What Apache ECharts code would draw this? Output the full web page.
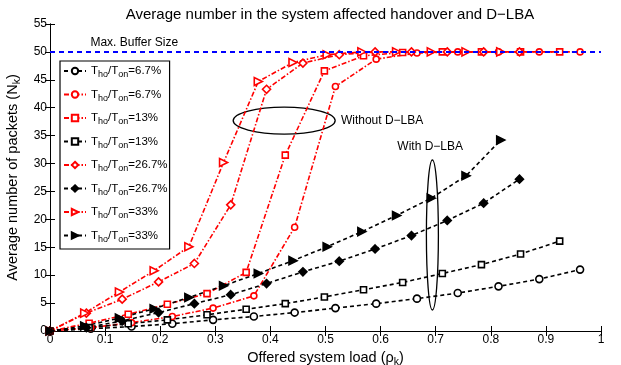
<!DOCTYPE html>
<html><head><meta charset="utf-8">
<script src="https://cdn.jsdelivr.net/npm/echarts@6/dist/echarts.min.js"></script>
<style>html,body{margin:0;padding:0;background:#fff;overflow:hidden;width:621px;height:365px}#c{position:absolute;left:0;top:0;width:621px;height:365px}</style>
</head><body><div id="c"></div>
<script>
const xTickLabels = ['0','0.1','0.2','0.3','0.4','0.5','0.6','0.7','0.8','0.9','1'];
const xCircle   = [0,0.074,0.148,0.222,0.296,0.370,0.444,0.518,0.592,0.666,0.740,0.814,0.888,0.962];
const xSquare   = [0,0.071,0.142,0.213,0.285,0.356,0.427,0.498,0.569,0.640,0.712,0.783,0.854,0.925];
const xDiamond  = [0,0.066,0.131,0.197,0.262,0.328,0.393,0.459,0.525,0.590,0.656,0.721,0.787,0.852];
const xTriangle = [0,0.063,0.126,0.189,0.252,0.315,0.378,0.441,0.503,0.566,0.629,0.692,0.755,0.818];

const yBlackCircle   = [0,0.4,0.8,1.3,2.0,2.6,3.3,4.1,4.9,5.8,6.8,8.0,9.3,11.0];
const yRedCircle     = [0,0.6,1.5,2.6,4.1,6.3,18.6,43.8,48.7,49.8,50,50,50,50];
const yRedSquare     = [0,1.4,3.0,4.8,6.7,10.5,31.5,46.6,49.3,49.9,50,50,50,50];
const yBlackSquare   = [0,0.6,1.3,2.0,2.9,3.9,4.9,6.1,7.4,8.7,10.3,11.9,13.8,16.1];
const yRedDiamond    = [0,3.2,5.7,8.8,12.1,22.6,43.3,48.0,49.5,50,50,50,50,50];
const yBlackDiamond  = [0,0.6,1.8,3.3,4.9,6.5,8.5,10.6,12.5,14.7,17.1,19.8,22.9,27.2];
const yRedTriangle   = [0,3.2,7.0,10.8,15.1,30.2,44.7,48.1,49.5,50,50,50,50,50];
const yBlackTriangle = [0,0.9,2.3,4.0,6.0,8.1,10.3,12.6,15.1,17.8,20.7,23.8,27.8,34.2];

const bufferSize = 50;
const legendLabels = ['6.7%','6.7%','13%','13%','26.7%','26.7%','33%','33%'];

const FONT = 'Liberation Sans, Arial, sans-serif';
function pair(xs, ys){ return xs.map((x,i)=>[x, ys[i]]); }

const RED = '#ff0000', BLACK = '#000000';
const redDash = [5,2,1.5,2];
const blackDash = [4,3];

function mk(id, xs, ys, color, symbol, filled, rotate, dash, size){
  return {
    name: id, type: 'line', data: pair(xs, ys),
    symbol: symbol, symbolSize: size || 7, symbolRotate: rotate || 0,
    showAllSymbol: true,
    lineStyle: {color: color, width: 1.6, type: dash},
    itemStyle: {color: filled ? color : '#ffffff', borderColor: color, borderWidth: 1.6},
    emphasis: {disabled: true}, animation: false, z: 3
  };
}

const series = [
  mk('s0', xCircle, yBlackCircle, BLACK, 'circle', false, 0, blackDash),
  mk('s1', xCircle, yRedCircle, RED, 'circle', false, 0, redDash, 6),
  mk('s2', xSquare, yRedSquare, RED, 'rect', false, 0, redDash, 6),
  mk('s3', xSquare, yBlackSquare, BLACK, 'rect', false, 0, blackDash, 6),
  mk('s4', xDiamond, yRedDiamond, RED, 'diamond', false, 0, redDash, 8),
  mk('s5', xDiamond, yBlackDiamond, BLACK, 'diamond', true, 0, blackDash, 8),
  mk('s6', xTriangle, yRedTriangle, RED, 'triangle', false, -90, redDash, 8),
  mk('s7', xTriangle, yBlackTriangle, BLACK, 'triangle', true, -90, blackDash, 8),
  { name: 'buffer', type: 'line', data: [[0,bufferSize],[1,bufferSize]], symbol: 'none',
    lineStyle: {color: '#0000ff', width: 2, type: [5,4]}, z: 5, animation: false,
    emphasis: {disabled: true} }
];

const legendNames = ['s0','s1','s2','s3','s4','s5','s6','s7'];

const chart = echarts.init(document.getElementById('c'), null, {renderer: 'canvas', width: 621, height: 365});
const axCommon = {
  axisLine: {lineStyle: {color: '#000', width: 1}},
  axisTick: {inside: true, length: 5, lineStyle: {color: '#000'}},
  splitLine: {show: false}
};
const nameRich = {a: {fontFamily: FONT, fontSize: 14.5, color: '#000'}, s: {fontFamily: FONT, fontSize: 10.5, color: '#000', padding: [8,0,0,0]}};
chart.setOption({
  animation: false,
  backgroundColor: '#fff',
  title: {
    text: 'Average number in the system affected handover and D\u2212LBA',
    left: 325, top: 2, textAlign: 'center',
    textStyle: {fontFamily: FONT, fontSize: 15, fontWeight: 'normal', color: '#000'}
  },
  grid: {left: 50, right: 20, top: 24, bottom: 34, containLabel: false, outerBoundsMode: 'none'},
  legend: {
    data: legendNames, orient: 'vertical', left: 60, top: 61,
    backgroundColor: '#fff', borderColor: '#000', borderWidth: 1.2, borderRadius: 0,
    padding: [4, 2, 5, 3], itemGap: 9, itemWidth: 22, itemHeight: 8,
    formatter: function(n){ const i = legendNames.indexOf(n); return '{a|T}{s|ho}{a|/T}{s|on}{a|=' + legendLabels[i] + '}'; },
    textStyle: {fontFamily: FONT, fontSize: 11.5, color: '#000',
      rich: {a: {fontFamily: FONT, fontSize: 11.5, color: '#000'}, s: {fontFamily: FONT, fontSize: 9, color: '#000', padding: [8,0,0,0]}}}
  },
  xAxis: [{
    type: 'value', min: 0, max: 1, interval: 0.1, position: 'bottom',
    name: '{a|Offered system load (\u03c1}{s|k}{a|)}', nameLocation: 'middle', nameGap: 8,
    nameTextStyle: {rich: nameRich},
    axisLabel: {fontFamily: FONT, fontSize: 12, color: '#000', margin: 3,
      formatter: v => xTickLabels[Math.round(v*10)]},
    ...axCommon
  },{
    type: 'value', min: 0, max: 1, interval: 0.1, position: 'top',
    axisLabel: {show: false}, ...axCommon
  }],
  yAxis: [{
    type: 'value', min: 0, max: 55, interval: 5, position: 'left',
    name: '{a|Average number of packets (N}{s|k}{a|)}', nameLocation: 'middle', nameGap: 22, nameRotate: 90,
    nameTextStyle: {rich: nameRich},
    axisLabel: {fontFamily: FONT, fontSize: 12, color: '#000', margin: 3},
    ...axCommon
  },{
    type: 'value', min: 0, max: 55, interval: 5, position: 'right',
    axisLabel: {show: false}, ...axCommon
  }],
  series: series
});

function px(x, y){ return chart.convertToPixel({gridIndex: 0}, [x, y]); }
const pMax = px(0.153, 51.6);
const pW = px(0.425, 37.7);
const pWt = px(0.528, 37.7);
const pWi = px(0.694, 17.2);
const pWit = px(0.69, 33.0);
chart.setOption({
  graphic: [
    {type: 'text', x: pMax[0], y: pMax[1], style: {text: 'Max. Buffer Size', font: '12px ' + FONT, fill: '#000', textAlign: 'center', textVerticalAlign: 'middle'}},
    {type: 'ellipse', shape: {cx: pW[0], cy: pW[1], rx: 51, ry: 13.5}, style: {fill: 'none', stroke: '#000', lineWidth: 1.3}},
    {type: 'text', x: pWt[0], y: pWt[1], style: {text: 'Without D\u2212LBA', font: '12px ' + FONT, fill: '#000', textAlign: 'left', textVerticalAlign: 'middle'}},
    {type: 'ellipse', shape: {cx: pWi[0], cy: pWi[1], rx: 6, ry: 75}, style: {fill: 'none', stroke: '#000', lineWidth: 1.3}},
    {type: 'text', x: pWit[0], y: pWit[1], style: {text: 'With D\u2212LBA', font: '12px ' + FONT, fill: '#000', textAlign: 'center', textVerticalAlign: 'middle'}}
  ]
});
</script>
</body></html>
